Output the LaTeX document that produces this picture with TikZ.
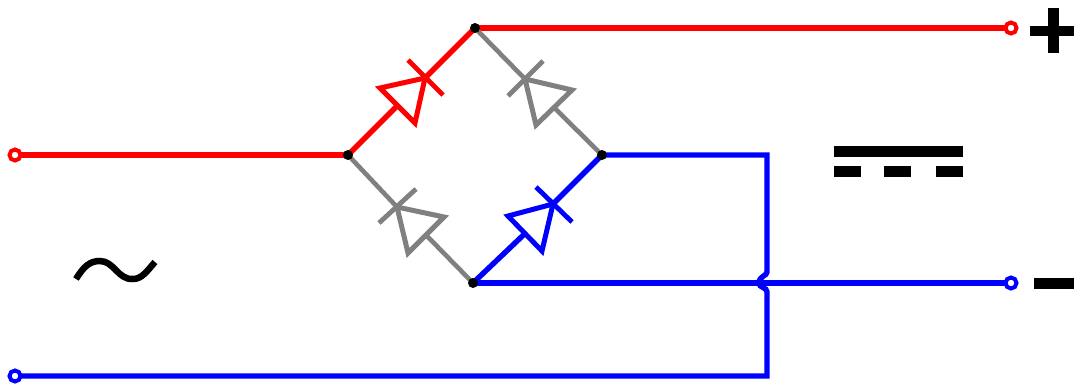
\documentclass[tikz,border=0pt]{standalone}
\begin{document}
\begin{tikzpicture}[x=1pt,y=-1pt,
  wire/.style={line width=5.4pt,line join=miter},
  thinwire/.style={line width=4.6pt},
  bar/.style={line width=4.8pt},
  body/.style={line width=5pt,line join=miter},
  junction/.style={circle,fill=black,inner sep=0pt,minimum size=10pt,outer sep=0pt},
  terminal/.style={circle,draw,fill=white,line width=4pt,inner sep=0pt,minimum size=11pt,outer sep=0pt}]
\useasboundingbox (0,0) rectangle (1074,383);
\definecolor{wred}{RGB}{255,0,0}
\definecolor{wblue}{RGB}{0,0,255}
\definecolor{wgray}{RGB}{128,128,128}
% terminals
\node[terminal,draw=wred] (inL) at (15,155) {};
\node[terminal,draw=wblue] (inB) at (15,376) {};
\node[terminal,draw=wred] (plus) at (1011,28) {};
\node[terminal,draw=wblue] (minus) at (1011,283) {};
% junction positions
\coordinate (L) at (348,155);
\coordinate (T) at (475,28);
\coordinate (R) at (602,155);
\coordinate (B) at (473,283);
% diode reference points
\coordinate (d1c) at (425,78); \coordinate (d1m) at (397.5,105.5);
\coordinate (d2c) at (525,79); \coordinate (d2m) at (554,107.5);
\coordinate (d3c) at (397,207); \coordinate (d3m) at (426,235);
\coordinate (d4c) at (553,204); \coordinate (d4m) at (525,233.5);
\coordinate (cr1) at (767,155); \coordinate (cr2) at (767,376);
\coordinate (hopa) at (767,272); \coordinate (hopb) at (767,292);
% outer wires
\draw[wire,wred] (inL) -- (L);
\draw[wire,wred] (T) -- (plus);
\draw[wire,wblue] (B) -- (minus);
\draw[wire,wblue] (R) -- (cr1) -- (hopa)
  .. controls (767,276) and (759,276) .. (759,283)
  .. controls (759,288) and (767,287) .. (hopb) -- (cr2) -- (inB);
% red diode
\draw[wire,wred] (L) -- (d1m);
\draw[wire,wred] (d1c) -- (T);
\draw[body,wred] (380,88) -- (d1c) -- (415,123) -- cycle;
\draw[bar,wred] (408,60) -- (443,95);
% gray diode top right
\draw[thinwire,wgray] (T) -- (d2c);
\draw[thinwire,wgray] (d2m) -- (R);
\draw[body,wgray] (572,90) -- (d2c) -- (536,125) -- cycle;
\draw[bar,wgray] (543,61) -- (508,96);
% gray diode bottom left
\draw[thinwire,wgray] (L) -- (d3c);
\draw[thinwire,wgray] (d3m) -- (B);
\draw[body,wgray] (444,217) -- (d3c) -- (408,253) -- cycle;
\draw[bar,wgray] (416,189) -- (379,223);
% blue diode
\draw[wire,wblue] (B) -- (d4m);
\draw[wire,wblue] (d4c) -- (R);
\draw[body,wblue] (508,216) -- (d4c) -- (542,251) -- cycle;
\draw[bar,wblue] (536,187) -- (572,222);
% junction dots on top
\node[junction] (jL) at (L) {};
\node[junction] (jT) at (T) {};
\node[junction] (jR) at (R) {};
\node[junction] (jB) at (B) {};
% symbols
\draw[line width=6.5pt,black] (76,279) .. controls (84,266) and (90,261) .. (100,261)
  .. controls (114,261) and (118,280) .. (133,279) .. controls (142,279) and (147,271) .. (155,262);
\fill[black] (1030,26) rectangle (1074,36);
\fill[black] (1048,8) rectangle (1059,53);
\fill[black] (1034,278) rectangle (1074,289);
\fill[black] (834,146) rectangle (963,157);
\fill[black] (834,166) rectangle (861,177);
\fill[black] (884,166) rectangle (911,177);
\fill[black] (936,166) rectangle (963,177);
\end{tikzpicture}
\end{document}
